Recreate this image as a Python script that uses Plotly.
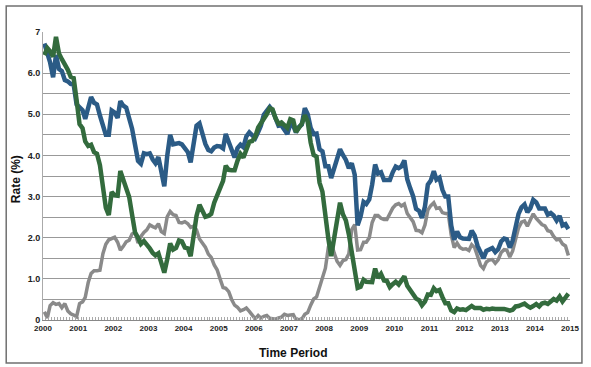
import pandas as pd
import plotly.graph_objects as go

# Monthly values, Jan 2000 .. Dec 2014
years = list(range(2000, 2016))
year_labels = [str(y) for y in years]

ten_year = [
    6.72, 6.52, 6.26, 5.90, 6.44, 6.10, 6.05, 5.83, 5.80, 5.74, 5.72, 5.24,
    5.16, 5.10, 4.89, 5.14, 5.42, 5.28, 5.24, 4.97, 4.73, 4.50, 4.50, 5.09,
    5.04, 4.91, 5.32, 5.21, 5.16, 4.93, 4.65, 4.26, 3.87, 3.80, 4.05, 4.03,
    4.05, 3.90, 3.81, 3.96, 3.57, 3.25, 3.98, 4.50, 4.27, 4.29, 4.30, 4.27,
    4.15, 4.08, 3.83, 4.35, 4.72, 4.78, 4.50, 4.28, 4.13, 4.10, 4.19, 4.23,
    4.22, 4.17, 4.52, 4.34, 4.14, 3.95, 4.18, 4.26, 4.20, 4.46, 4.56, 4.47,
    4.42, 4.57, 4.72, 4.99, 5.11, 5.18, 5.09, 4.88, 4.72, 4.73, 4.60, 4.52,
    4.76, 4.72, 4.56, 4.69, 4.75, 5.15, 5.00, 4.67, 4.52, 4.53, 4.15, 4.10,
    3.74, 3.74, 3.45, 3.68, 3.88, 4.15, 4.01, 3.89, 3.69, 3.81, 3.53, 2.30,
    2.52, 2.87, 2.82, 2.93, 3.29, 3.78, 3.56, 3.59, 3.40, 3.39, 3.40, 3.59,
    3.73, 3.69, 3.73, 3.88, 3.42, 3.20, 3.01, 2.70, 2.65, 2.48, 2.76, 3.29,
    3.39, 3.62, 3.41, 3.46, 3.17, 3.00, 3.00, 2.30, 1.95, 2.15, 2.01, 1.98,
    1.97, 1.97, 2.17, 2.05, 1.80, 1.62, 1.50, 1.68, 1.72, 1.75, 1.65, 1.72,
    1.91, 1.98, 1.96, 1.76, 1.93, 2.30, 2.58, 2.74, 2.81, 2.62, 2.72, 2.92,
    2.86, 2.71, 2.72, 2.71, 2.56, 2.60, 2.54, 2.42, 2.53, 2.30, 2.33, 2.21,
]

two_year = [
    6.44, 6.61, 6.53, 6.40, 6.88, 6.48, 6.34, 6.23, 6.08, 5.91, 5.88, 5.35,
    4.76, 4.66, 4.34, 4.23, 4.26, 4.08, 4.04, 3.76, 3.12, 2.73, 2.55, 3.11,
    3.03, 3.02, 3.62, 3.42, 3.26, 2.99, 2.56, 2.13, 2.00, 1.85, 1.92, 1.84,
    1.74, 1.63, 1.57, 1.62, 1.42, 1.15, 1.47, 1.86, 1.71, 1.75, 1.93, 1.91,
    1.76, 1.74, 1.55, 2.07, 2.53, 2.80, 2.64, 2.51, 2.53, 2.58, 2.85, 3.01,
    3.22, 3.38, 3.75, 3.65, 3.64, 3.64, 3.87, 4.04, 3.95, 4.17, 4.33, 4.35,
    4.45, 4.68, 4.77, 4.90, 5.00, 5.15, 5.12, 4.90, 4.77, 4.80, 4.74, 4.67,
    4.88, 4.85, 4.57, 4.67, 4.77, 4.98, 4.82, 4.31, 4.01, 3.97, 3.34, 3.12,
    2.48, 1.97, 1.55, 2.05, 2.45, 2.85, 2.57, 2.42, 2.08, 1.61, 1.21, 0.78,
    0.81, 0.98, 0.93, 0.93, 0.92, 1.25, 1.02, 1.12, 0.96, 0.95, 0.80, 0.87,
    0.93, 0.86, 0.96, 1.06, 0.83, 0.72, 0.62, 0.52, 0.48, 0.36, 0.45, 0.62,
    0.61, 0.77, 0.70, 0.73, 0.56, 0.41, 0.41, 0.23, 0.19, 0.28, 0.25, 0.26,
    0.24, 0.28, 0.34, 0.29, 0.29, 0.29, 0.25, 0.27, 0.26, 0.28, 0.27, 0.26,
    0.27, 0.27, 0.26, 0.23, 0.25, 0.33, 0.34, 0.36, 0.40, 0.34, 0.30, 0.34,
    0.39, 0.33, 0.40, 0.42, 0.39, 0.45, 0.51, 0.47, 0.57, 0.45, 0.53, 0.64,
]

spread = [
    0.20, 0.05, 0.35, 0.42, 0.38, 0.40, 0.30, 0.40, 0.22, 0.15, 0.12, 0.08,
    0.40, 0.44, 0.55, 0.91, 1.13, 1.20, 1.20, 1.21, 1.61, 1.84, 1.95, 1.98,
    2.01, 1.89, 1.70, 1.79, 1.90, 1.94, 2.09, 2.13, 1.87, 2.03, 2.13, 2.19,
    2.31, 2.27, 2.24, 2.34, 2.15, 2.10, 2.51, 2.64, 2.56, 2.54, 2.37, 2.36,
    2.39, 2.34, 2.25, 2.28, 2.19, 1.97, 1.86, 1.77, 1.60, 1.52, 1.34, 1.22,
    1.00, 0.79, 0.77, 0.69, 0.50, 0.36, 0.31, 0.22, 0.25, 0.29, 0.21, 0.12,
    0.03, 0.11, 0.05, 0.09, 0.11, 0.04, 0.03, 0.02, 0.05, 0.07, 0.14, 0.11,
    0.12, 0.13, 0.01, 0.02, 0.02, 0.14, 0.18, 0.36, 0.51, 0.56, 0.81, 0.98,
    1.26, 1.77, 1.89, 1.63, 1.43, 1.33, 1.44, 1.47, 1.61, 2.20, 2.32, 1.70,
    1.71, 1.89, 1.89, 2.00, 2.37, 2.54, 2.54, 2.47, 2.44, 2.44, 2.60, 2.72,
    2.80, 2.83, 2.77, 2.82, 2.59, 2.48, 2.39, 2.18, 2.17, 2.12, 2.31, 2.67,
    2.78, 2.85, 2.71, 2.73, 2.61, 2.59, 2.59, 2.07, 1.76, 1.87, 1.76, 1.72,
    1.73, 1.69, 1.83, 1.76, 1.51, 1.33, 1.25, 1.41, 1.46, 1.47, 1.38, 1.46,
    1.64, 1.71, 1.70, 1.53, 1.68, 1.97, 2.24, 2.38, 2.41, 2.28, 2.42, 2.58,
    2.47, 2.38, 2.32, 2.29, 2.17, 2.15, 2.03, 1.95, 1.96, 1.85, 1.80, 1.57,
]

dates = pd.date_range("2000-01-01", periods=len(ten_year), freq="MS") + pd.Timedelta(days=14)

BLUE = "#2b5b86"
GREEN = "#336b3d"
GRAY = "#8a8a8a"
FONT = "Liberation Sans"

fig = go.Figure()
fig.add_trace(go.Scatter(x=dates, y=spread, mode="lines",
                         line=dict(color=GRAY, width=3.5), hoverinfo="skip"))
fig.add_trace(go.Scatter(x=dates, y=ten_year, mode="lines",
                         line=dict(color=BLUE, width=4.5), hoverinfo="skip"))
fig.add_trace(go.Scatter(x=dates, y=two_year, mode="lines",
                         line=dict(color=GREEN, width=4.5), hoverinfo="skip"))

ytick_vals = [i * 0.5 for i in range(15)]
ytick_text = []
for v in ytick_vals:
    if v == 0:
        ytick_text.append("0")
    elif v == 7:
        ytick_text.append("7")
    elif v == int(v):
        ytick_text.append(f"{v:.1f}")
    else:
        ytick_text.append("")

W, H = 591, 367
L, R, T, B = 43, 18, 32, 47
pw, ph = W - L - R, H - T - B

def px(x):
    return (x - L) / pw

def py(y):
    return (H - B - y) / ph

fig.update_layout(
    width=W, height=H,
    margin=dict(l=L, r=R, t=T, b=B, pad=0),
    plot_bgcolor="white", paper_bgcolor="white",
    showlegend=False,
    font=dict(family=FONT, color="#222"),
    xaxis=dict(
        type="date",
        range=["2000-01-01", "2015-01-01"],
        tickvals=[f"{y}-01-01" for y in years],
        ticktext=year_labels,
        tickfont=dict(family=FONT, size=8, color="#222", weight="bold"),
        showgrid=False, zeroline=False,
        showline=True, linecolor="#888", linewidth=1,
        ticks="inside", ticklen=3, tickcolor="#aaa", tickwidth=1,
        minor=dict(ticks="inside", ticklen=3, dtick="M1", tick0="2000-01-01",
                   tickcolor="#aaa", tickwidth=1, showgrid=False),
        fixedrange=True,
    ),
    yaxis=dict(
        range=[0, 7],
        tickvals=ytick_vals,
        ticktext=ytick_text,
        tickfont=dict(family=FONT, size=9, color="#222", weight="bold"),
        showgrid=True, gridcolor="#999", gridwidth=1,
        zeroline=False,
        showline=True, linecolor="#aaa", linewidth=1,
        ticks="", fixedrange=True,
    ),
    annotations=[
        dict(text="Time Period", x=px(294), y=py(353), xref="paper", yref="paper",
             showarrow=False, xanchor="center", yanchor="middle",
             font=dict(family=FONT, size=12, color="#111", weight="bold")),
        dict(text="Rate (%)", x=px(16), y=py(179), xref="paper", yref="paper",
             showarrow=False, xanchor="center", yanchor="middle", textangle=-90,
             font=dict(family=FONT, size=12, color="#111", weight="bold")),
    ],
    shapes=[
        dict(type="rect", xref="paper", yref="paper",
             x0=px(6), x1=px(585), y0=py(363), y1=py(6),
             line=dict(color="#707070", width=1.5), fillcolor="rgba(0,0,0,0)",
             layer="above"),
    ],
)

fig.write_html(
    "out.html",
    config={"displayModeBar": False},
    post_script="document.body.style.margin='0';document.body.style.padding='0';",
)
